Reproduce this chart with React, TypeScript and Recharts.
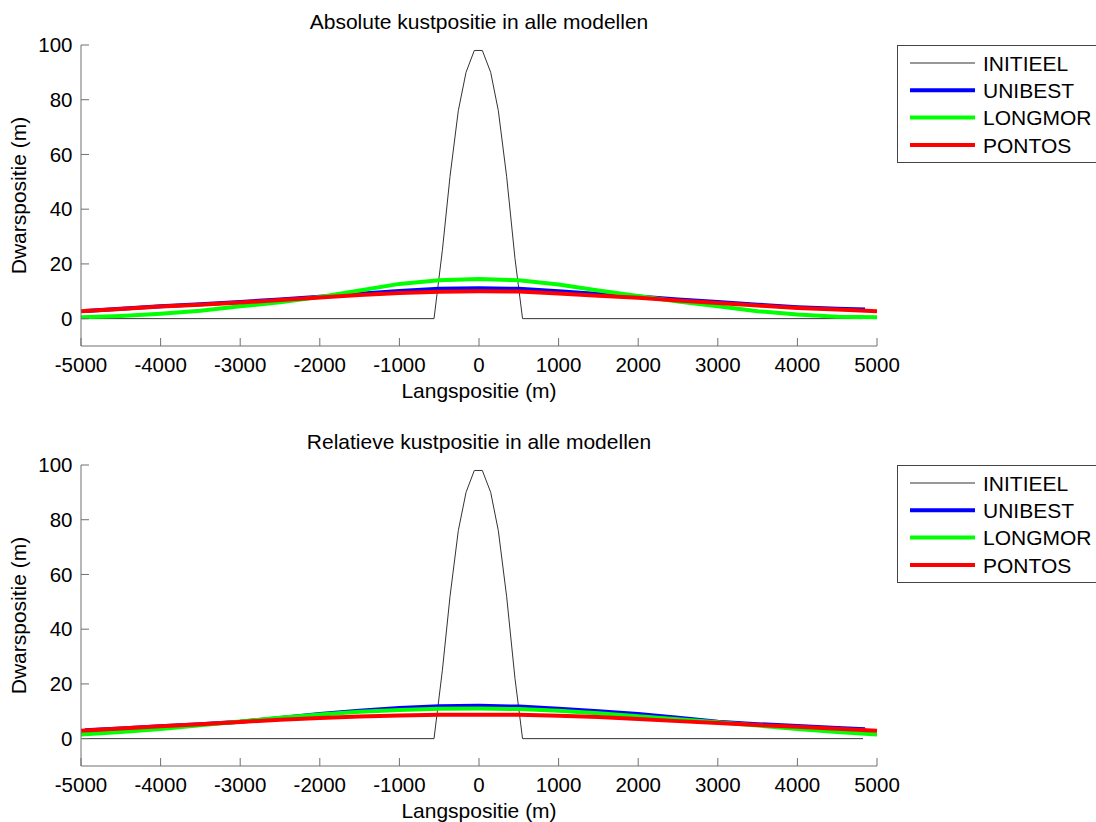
import React from 'react';
import { LineChart, Line, XAxis, YAxis, Legend } from 'recharts';

// ---- Data ----
const X_TICKS = [-5000, -4000, -3000, -2000, -1000, 0, 1000, 2000, 3000, 4000, 5000];
const Y_TICKS = [0, 20, 40, 60, 80, 100];

const INIT_X = [-4990, -565, -460, -364, -260, -163, -59, 42, 147, 243, 347, 452, 547, 4825];
const INIT_Y = [0, 0, 25, 52, 76, 90, 98, 98, 90, 76, 52, 22, 0, 0];

const MODEL_X = [-5000, -4500, -4000, -3500, -3000, -2500, -2000, -1500, -1000, -500, 0, 500, 1000, 1500, 2000, 2500, 3000, 3500, 4000, 4500, 5000];
const UNIBEST_X = [-4950, -4500, -4000, -3500, -3000, -2500, -2000, -1500, -1000, -500, 0, 500, 1000, 1500, 2000, 2500, 3000, 3500, 4000, 4500, 4850];

const ABS_UNIBEST = [2.8, 3.6, 4.5, 5.3, 6.1, 7.0, 8.0, 9.1, 10.1, 10.9, 11.1, 10.9, 10.0, 9.0, 8.1, 7.0, 6.1, 5.1, 4.2, 3.6, 3.3];
const ABS_LONGMOR = [0.5, 1.0, 1.8, 2.9, 4.5, 6.0, 7.9, 10.3, 12.7, 14.0, 14.5, 14.0, 12.5, 10.3, 8.3, 6.3, 4.5, 2.7, 1.5, 0.7, 0.5];
const ABS_PONTOS = [2.7, 3.5, 4.4, 5.1, 5.9, 6.8, 7.7, 8.6, 9.4, 9.8, 10.0, 9.9, 9.2, 8.4, 7.6, 6.6, 5.7, 4.8, 3.9, 3.3, 2.7];

const REL_UNIBEST = [3.1, 3.7, 4.5, 5.3, 6.2, 7.5, 9.0, 10.2, 11.2, 11.8, 12.0, 11.7, 10.9, 10.0, 9.0, 7.6, 6.2, 5.3, 4.6, 3.9, 3.4];
const REL_LONGMOR = [1.5, 2.4, 3.5, 4.9, 6.3, 7.6, 8.8, 9.8, 10.5, 10.9, 11.0, 10.8, 10.2, 9.3, 8.2, 7.1, 6.0, 4.8, 3.5, 2.4, 1.5];
const REL_PONTOS = [2.9, 3.7, 4.5, 5.3, 6.1, 6.9, 7.5, 8.1, 8.5, 8.7, 8.7, 8.7, 8.4, 7.9, 7.2, 6.4, 5.7, 5.0, 4.3, 3.6, 2.9];

const SERIES_NAMES = ['INITIEEL', 'UNIBEST', 'LONGMOR', 'PONTOS'];
const SERIES_COLORS = ['#333333', '#0000ff', '#00ff00', '#ff0000'];
const SERIES_WIDTHS = [1, 4, 4, 4];

const FONT = '"Liberation Sans", Arial, Helvetica, sans-serif';
const AXIS_COLOR = '#707070';

const toRows = (xs: number[], ys: number[]) => xs.map((x, i) => ({ x, y: ys[i] }));

type PanelProps = {
  title: string;
  unibest: number[];
  longmor: number[];
  pontos: number[];
};

const LegendBox = () => {
  const rowY = [18, 45.3, 72.6, 100];
  return (
    <svg width={200} height={118} style={{ display: 'block', fontFamily: FONT }}>
      <rect x={0.5} y={0.5} width={199} height={117} fill="#fff" stroke="#444" strokeWidth={1} />
      {SERIES_NAMES.map((name, i) => (
        <g key={name}>
          <line x1={13} x2={78} y1={rowY[i]} y2={rowY[i]} stroke={SERIES_COLORS[i]} strokeWidth={SERIES_WIDTHS[i]} />
          <text x={86} y={rowY[i] + 7.5} fontSize={21} fill="#000">{name}</text>
        </g>
      ))}
    </svg>
  );
};

const Panel = ({ title, unibest, longmor, pontos }: PanelProps) => {
  const datasets = [
    toRows(INIT_X, INIT_Y),
    toRows(UNIBEST_X, unibest),
    toRows(MODEL_X, longmor),
    toRows(MODEL_X, pontos),
  ];
  return (
    <div style={{ position: 'relative', width: 1096, height: 411 }}>
      <LineChart
        width={1096}
        height={411}
        margin={{ top: 45, right: 219, bottom: 0, left: 0 }}
        style={{ fontFamily: FONT }}
      >
        <XAxis
          type="number"
          dataKey="x"
          domain={[-5000, 5000]}
          ticks={X_TICKS}
          interval={0}
          height={65}
          stroke={AXIS_COLOR}
          tickSize={-8}
          tickMargin={19.5}
          tick={{ fill: '#000', fontSize: 20.5 }}
          label={{ value: 'Langspositie (m)', position: 'insideBottom', offset: 13, fill: '#000', fontSize: 21 }}
        />
        <YAxis
          type="number"
          domain={[-10, 100]}
          ticks={Y_TICKS}
          interval={0}
          width={81}
          stroke={AXIS_COLOR}
          tickSize={-8}
          tickMargin={16.5}
          tick={{ fill: '#000', fontSize: 20.5 }}
          label={{ value: 'Dwarspositie (m)', angle: -90, position: 'center', dx: -22, fill: '#000', fontSize: 21 }}
        />
        <Legend
          layout="vertical"
          align="center"
          verticalAlign="middle"
          content={() => <LegendBox />}
          wrapperStyle={{ position: 'absolute', left: 897, top: 45, width: 200, height: 118 }}
        />
        {SERIES_NAMES.map((name, i) => (
          <Line
            key={name}
            name={name}
            data={datasets[i]}
            dataKey="y"
            type="linear"
            stroke={SERIES_COLORS[i]}
            strokeWidth={SERIES_WIDTHS[i]}
            dot={false}
            activeDot={false}
            isAnimationActive={false}
          />
        ))}
      </LineChart>
      <svg
        width={1096}
        height={40}
        style={{ position: 'absolute', left: 0, top: 0, pointerEvents: 'none', fontFamily: FONT }}
      >
        <text x={479} y={29} textAnchor="middle" fontSize={21} fill="#000">{title}</text>
      </svg>
    </div>
  );
};

export default function App() {
  return (
    <div
      style={{
        position: 'absolute',
        left: 0,
        top: 0,
        width: 1096,
        height: 822,
        overflow: 'hidden',
        background: '#fff',
      }}
    >
      <div style={{ position: 'absolute', left: 0, top: 0 }}>
        <Panel title="Absolute kustpositie in alle modellen" unibest={ABS_UNIBEST} longmor={ABS_LONGMOR} pontos={ABS_PONTOS} />
      </div>
      <div style={{ position: 'absolute', left: 0, top: 420 }}>
        <Panel title="Relatieve kustpositie in alle modellen" unibest={REL_UNIBEST} longmor={REL_LONGMOR} pontos={REL_PONTOS} />
      </div>
    </div>
  );
}
